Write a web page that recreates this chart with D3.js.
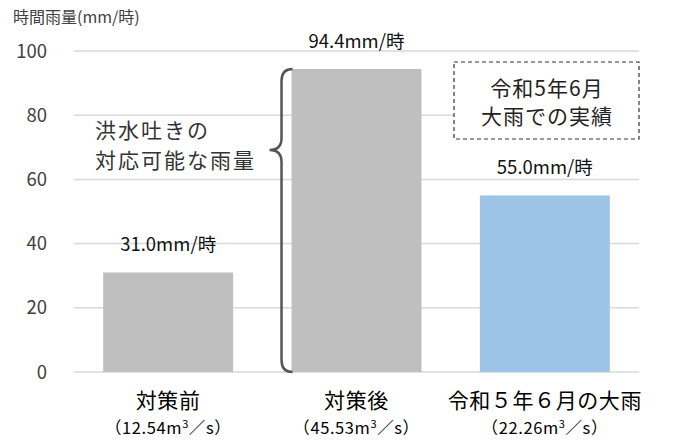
<!DOCTYPE html>
<html>
<head>
<meta charset="utf-8">
<script src="https://cdn.jsdelivr.net/npm/d3@7"></script>
<style>
  body { margin: 0; background: #fff; }
  text { font-family: "Noto Sans CJK JP", "Noto Sans", sans-serif; }
</style>
</head>
<body>
<div id="chart"></div>
<script>
// categories and values
var categories = ["対策前", "対策後", "令和５年６月の大雨"];
var flows = ["12.54", "45.53", "22.26"];
var rainfall = [31.0, 94.4, 55.0];
var barColors = ["#bfbfbf", "#bfbfbf", "#9dc3e6"];
var yTicks = [0, 20, 40, 60, 80, 100];

var width = 674, height = 440;

var svg = d3.select("#chart")
  .append("svg")
  .attr("width", width)
  .attr("height", height);

var x = d3.scaleBand()
    .domain(categories)
    .range([74, 639])
    .paddingInner(0.31)
    .paddingOuter(0.155);

var y = d3.scaleLinear()
    .domain([0, 100])
    .range([372, 51]);

// gridlines
svg.append("g")
  .selectAll("line")
  .data(yTicks)
  .join("line")
    .attr("x1", 74)
    .attr("x2", 639)
    .attr("y1", d => y(d))
    .attr("y2", d => y(d))
    .attr("stroke", "#d9d9d9")
    .attr("stroke-width", 1.5);

// tick labels
svg.append("g")
  .selectAll("text")
  .data(yTicks)
  .join("text")
    .attr("x", 47)
    .attr("y", d => y(d))
    .attr("dy", "0.36em")
    .attr("text-anchor", "end")
    .attr("font-size", 18.5)
    .attr("fill", "#404040")
    .text(d => d);

// axis title
svg.append("text")
  .attr("x", 13)
  .attr("y", 23)
  .attr("font-size", 16)
  .attr("fill", "#404040")
  .text("時間雨量(mm/時)");

// bars
svg.append("g")
  .selectAll("rect")
  .data(rainfall)
  .join("rect")
    .attr("x", (d, i) => x(categories[i]))
    .attr("y", d => y(d))
    .attr("width", x.bandwidth())
    .attr("height", d => y(0) - y(d))
    .attr("fill", (d, i) => barColors[i]);

// value labels
svg.append("g")
  .selectAll("text")
  .data(rainfall)
  .join("text")
    .attr("x", (d, i) => x(categories[i]) + x.bandwidth() / 2)
    .attr("y", d => y(d) - 21)
    .attr("text-anchor", "middle")
    .attr("font-size", 18.5)
    .attr("fill", "#111")
    .text(d => d.toFixed(1) + "mm/時");

// category labels
var cat = svg.append("g")
  .selectAll("g")
  .data(categories)
  .join("g")
    .attr("transform", d => `translate(${x(d) + x.bandwidth() / 2},0)`);

cat.append("text")
    .attr("y", 408)
    .attr("text-anchor", "middle")
    .attr("font-size", 21)
    .attr("letter-spacing", 0.6)
    .attr("fill", "#000")
    .text(d => d);

var sub = cat.append("text")
    .attr("y", 434)
    .attr("text-anchor", "middle")
    .attr("font-size", 16.5)
    .attr("letter-spacing", 0.6)
    .attr("fill", "#000");
sub.append("tspan").text((d, i) => "（" + flows[i] + "m");
sub.append("tspan").attr("font-size", 11).attr("dy", -6).text("3");
sub.append("tspan").attr("dy", 6).text("／s）");

// curly brace next to the second bar
var bx = x(categories[1]);
var braceTop = y(rainfall[1]), braceBot = y(0), braceMid = 150;
var braceX = bx - 10, tipX = bx - 22;
svg.append("path")
  .attr("d", `M${bx + 1},${braceTop} Q${braceX},${braceTop} ${braceX},${braceTop + 12}
    L${braceX},${braceMid - 12} Q${braceX},${braceMid} ${tipX},${braceMid}
    Q${braceX},${braceMid} ${braceX},${braceMid + 12}
    L${braceX},${braceBot - 12} Q${braceX},${braceBot} ${bx + 1},${braceBot}`)
  .attr("fill", "none")
  .attr("stroke", "#555")
  .attr("stroke-width", 2.5);

svg.append("g")
  .selectAll("text")
  .data(["洪水吐きの", "対応可能な雨量"])
  .join("text")
    .attr("x", 95)
    .attr("y", (d, i) => 138 + i * 30)
    .attr("font-size", 21)
    .attr("letter-spacing", 2)
    .attr("fill", "#333")
    .text(d => d);

// dashed note box
svg.append("rect")
  .attr("x", 454)
  .attr("y", 62)
  .attr("width", 185)
  .attr("height", 77)
  .attr("fill", "#fff")
  .attr("stroke", "#333")
  .attr("stroke-width", 1.2)
  .attr("stroke-dasharray", "4,3");

svg.append("g")
  .selectAll("text")
  .data(["令和5年6月", "大雨での実績"])
  .join("text")
    .attr("x", 547)
    .attr("y", (d, i) => 96 + i * 28)
    .attr("text-anchor", "middle")
    .attr("font-size", 21)
    .attr("letter-spacing", 1)
    .attr("fill", "#222")
    .text(d => d);
</script>
</body>
</html>
